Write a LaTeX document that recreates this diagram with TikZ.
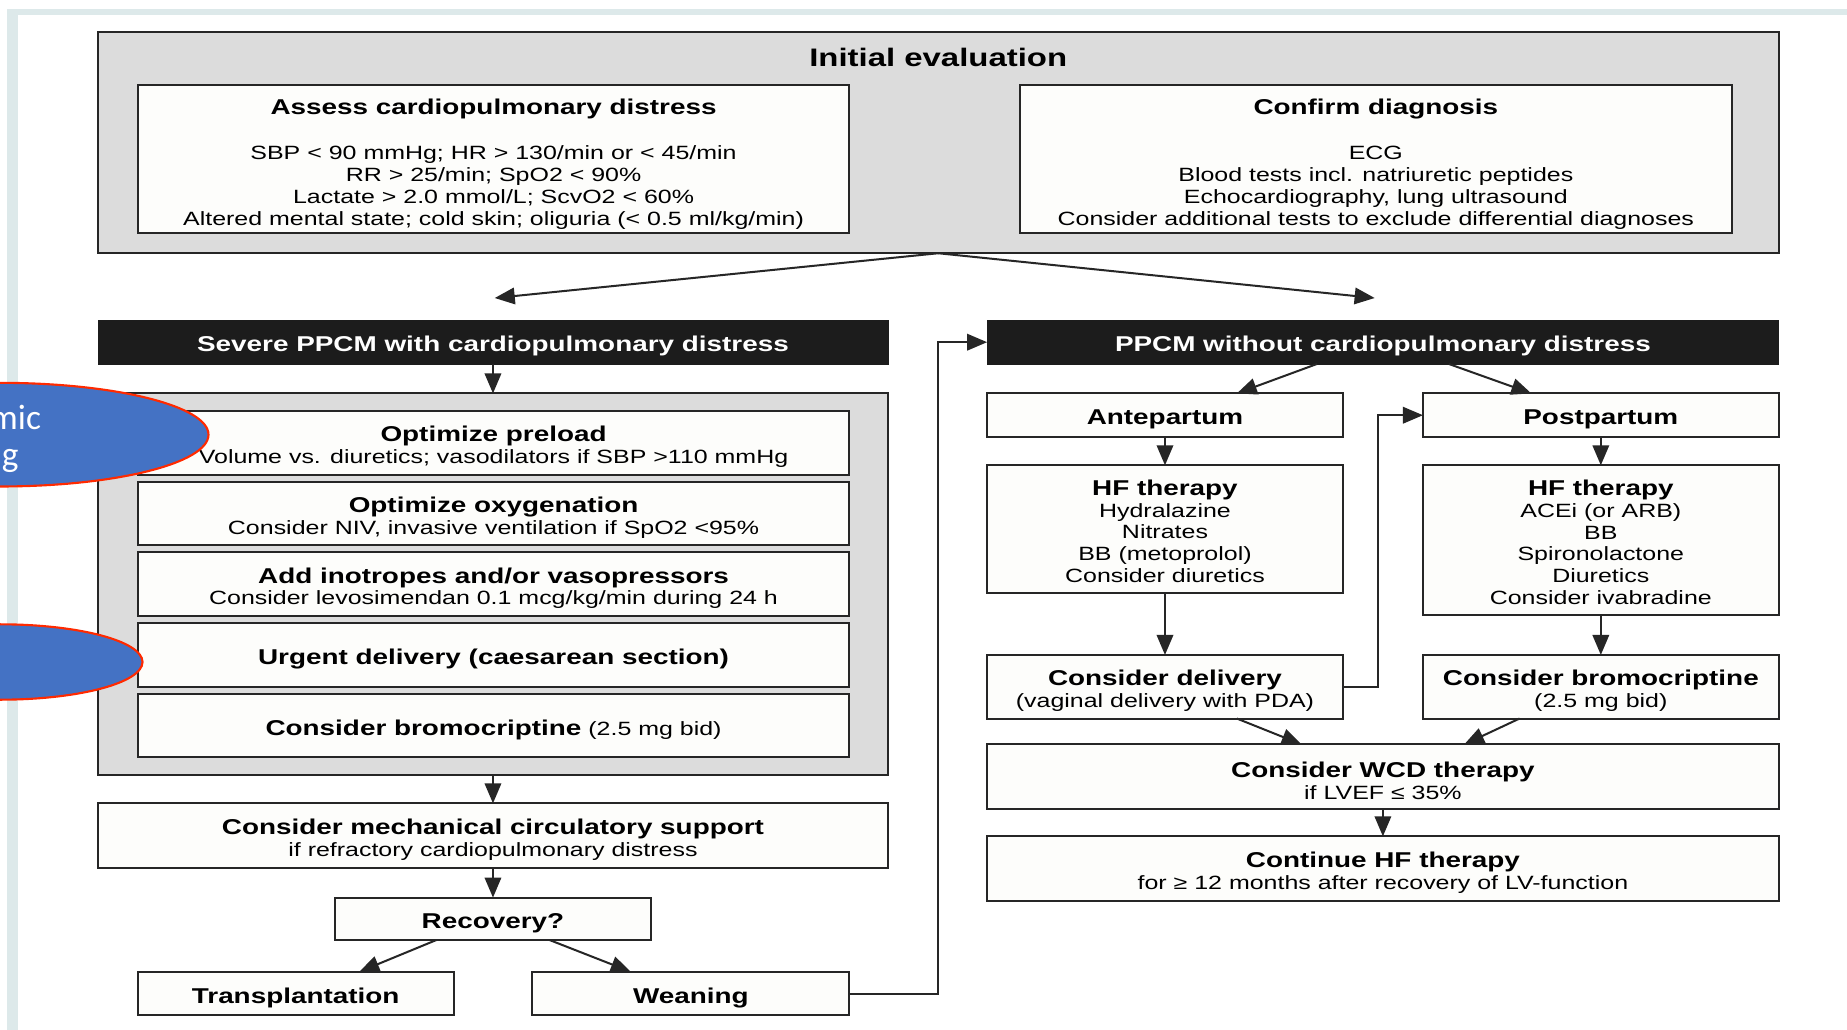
\documentclass[tikz,border=0pt]{standalone}
\usepackage{fontspec}
\setmainfont{Liberation Sans}[FakeStretch=1.3]
\newfontfamily\calib{Carlito}
\usetikzlibrary{arrows.meta,calc,shapes.geometric}
\definecolor{framec}{HTML}{DDE9EA}
\definecolor{grayfill}{HTML}{DCDCDC}
\definecolor{boxfill}{HTML}{FDFDFB}
\definecolor{linec}{HTML}{262626}
\definecolor{hdr}{HTML}{1C1C1C}
\definecolor{ellblue}{HTML}{4472C4}
\definecolor{ellred}{HTML}{FF2A00}
\newcommand\bdfont{\fontsize{16.3}{18.5}\selectfont}
\newcommand\hdfont{\bfseries\fontsize{18.2}{18.5}\selectfont}
\newcommand\lowr{\rule{0pt}{20pt}}
\tikzset{
  wh/.style 2 args={minimum width=#1pt, minimum height=#2pt},
  box/.style={draw=linec, line width=1.7pt, fill=boxfill, inner sep=0pt, outer sep=0pt, align=center, font=\bdfont},
  graybg/.style={draw=linec, line width=1.9pt, fill=grayfill, inner sep=0pt, outer sep=0pt},
  hdrbox/.style={fill=hdr, draw=hdr, text=white, font=\hdfont, inner sep=0pt, outer sep=0pt},
  arr/.style={draw=linec, line width=1.7pt, -{Triangle[length=17pt,width=14pt]}},
  elltext/.style={font=\calib\fontsize{30}{34}\selectfont, text=white, anchor=base east, inner sep=0pt},
  ell/.style={ellipse, draw=ellred, line width=1.8pt, fill=ellblue, inner sep=0pt}
}
\begin{document}
\begin{tikzpicture}[x=1pt,y=-1pt]
\useasboundingbox (0,0) rectangle (1568,874);
\fill[white] (0,0) rectangle (1568,874);
% frame
\fill[framec] (6,8) rectangle (1568,13);
\fill[framec] (6,8) rectangle (15,874);

% initial evaluation
\node[graybg, wh={1427}{188}] (eval) at (796.5,121) {};
\node[font=\bfseries\fontsize{21.5}{24}\selectfont, inner sep=0pt] (evalt) at (796.5,49) {Initial evaluation};
\node[box, wh={604}{126}] (assess) at (419,135) {\rule{0pt}{22pt}{\hdfont Assess cardiopulmonary distress}\\[20pt]
  SBP < 90 mmHg; HR > 130/min or < 45/min\\
  RR > 25/min; SpO2 < 90\%\\
  Lactate > 2.0 mmol/L; ScvO2 < 60\%\\
  Altered mental state; cold skin; oliguria (< 0.5 ml/kg/min)};
\node[box, wh={604}{126}] (confirm) at (1168,135) {\rule{0pt}{22pt}{\hdfont Confirm diagnosis}\\[20pt]
  ECG\\
  Blood tests incl. natriuretic peptides\\
  Echocardiography, lung ultrasound\\
  Consider additional tests to exclude differential diagnoses};

% left column
\node[hdrbox, wh={671}{37}] (severe) at (418.5,290.5) {\lowr Severe PPCM with cardiopulmonary distress};
\node[graybg, line width=1.7pt, wh={671}{324}] (grayL) at (418.5,496) {};
\node[box, wh={604}{54}] (preload) at (419,376) {\lowr{\hdfont Optimize preload}\\ Volume vs. diuretics; vasodilators if SBP >110 mmHg};
\node[box, wh={604}{54}] (oxy) at (419,436) {\lowr{\hdfont Optimize oxygenation}\\ Consider NIV, invasive ventilation if SpO2 <95\%};
\node[box, wh={604}{54}] (ino) at (419,496) {\lowr{\hdfont Add inotropes and/or vasopressors}\\ Consider levosimendan 0.1 mcg/kg/min during 24 h};
\node[box, wh={604}{54}] (urgent) at (419,556) {\lowr\hdfont Urgent delivery (caesarean section)};
\node[box, wh={604}{54}] (bromoL) at (419,616) {\lowr{\hdfont Consider bromocriptine} (2.5 mg bid)};
\node[box, wh={671}{55}] (mcs) at (418.5,709.5) {\lowr{\hdfont Consider mechanical circulatory support}\\ if refractory cardiopulmonary distress};
\node[box, wh={269}{36}] (recovery) at (418.5,780) {\lowr\hdfont Recovery?};
\node[box, wh={268}{37}] (transpl) at (251,843.5) {\lowr\hdfont Transplantation};
\node[box, wh={269}{37}] (weaning) at (586.5,843.5) {\lowr\hdfont Weaning};

% right column
\node[hdrbox, wh={672}{37}] (ppcm) at (1174,290.5) {\lowr PPCM without cardiopulmonary distress};
\node[box, wh={302}{37}] (ante) at (989,352.5) {\lowr\hdfont Antepartum};
\node[box, wh={302}{37}] (post) at (1359,352.5) {\lowr\hdfont Postpartum};
\node[box, wh={302}{108}] (hfL) at (989,449) {\rule{0pt}{17pt}{\hdfont HF therapy}\\ Hydralazine\\ Nitrates\\ BB (metoprolol)\\ Consider diuretics};
\node[box, wh={302}{127}] (hfR) at (1359,458.5) {\rule{0pt}{17pt}{\hdfont HF therapy}\\ ACEi (or ARB)\\ BB\\ Spironolactone\\ Diuretics\\ Consider ivabradine};
\node[box, wh={302}{54}] (deliv) at (989,583) {\lowr{\hdfont Consider delivery}\\ (vaginal delivery with PDA)};
\node[box, wh={302}{54}] (bromoR) at (1359,583) {\lowr{\hdfont Consider bromocriptine}\\ (2.5 mg bid)};
\node[box, wh={672}{55}] (wcd) at (1174,659.5) {\lowr{\hdfont Consider WCD therapy}\\ if LVEF ≤ 35\%};
\node[box, wh={672}{55}] (cont) at (1174,737.5) {\lowr{\hdfont Continue HF therapy}\\ for ≥ 12 months after recovery of LV-function};

% connectors
\coordinate (sevin) at (420,253);
\coordinate (ppin) at (1167,253);
\draw[arr] (eval.south) -- (sevin);
\draw[arr] (eval.south) -- (ppin);
\draw[arr] (severe.south) -- (grayL.north);
\draw[arr] (grayL.south) -- (mcs.north);
\draw[arr] (mcs.south) -- (recovery.north);
\draw[arr] ($(recovery.south)+(-48,0)$) -- ($(transpl.north)+(54,0)$);
\draw[arr] ($(recovery.south)+(48,0)$) -- ($(weaning.north)+(-51,0)$);
\draw[arr] (weaning.east) -- ++(75,0) |- (ppcm.west);
\draw[arr] ($(ppcm.south)+(-56,0)$) -- ($(ante.north)+(61,0)$);
\draw[arr] ($(ppcm.south)+(56,0)$) -- ($(post.north)+(-59,0)$);
\draw[arr] (ante.south) -- (hfL.north);
\draw[arr] (post.south) -- (hfR.north);
\draw[arr] (hfL.south) -- (deliv.north);
\draw[arr] (hfR.south) -- (bromoR.north);
\draw[arr] (deliv.east) -- ++(30,0) |- (post.west);
\draw[arr] ($(deliv.south)+(61,0)$) -- ($(wcd.north)+(-69,0)$);
\draw[arr] ($(bromoR.south)+(-69,0)$) -- ($(wcd.north)+(69,0)$);
\draw[arr] (wcd.south) -- (cont.north);

% overlay ellipses
\node[ell, minimum width=354pt, minimum height=88pt] (ell1) at (0,369) {};
\node[elltext] (ell1a) at (35,365) {mic};
\node[elltext] (ell1b) at (16,396) {ng};
\node[ell, minimum width=242pt, minimum height=64pt] (ell2) at (0,562) {};
\end{tikzpicture}
\end{document}
